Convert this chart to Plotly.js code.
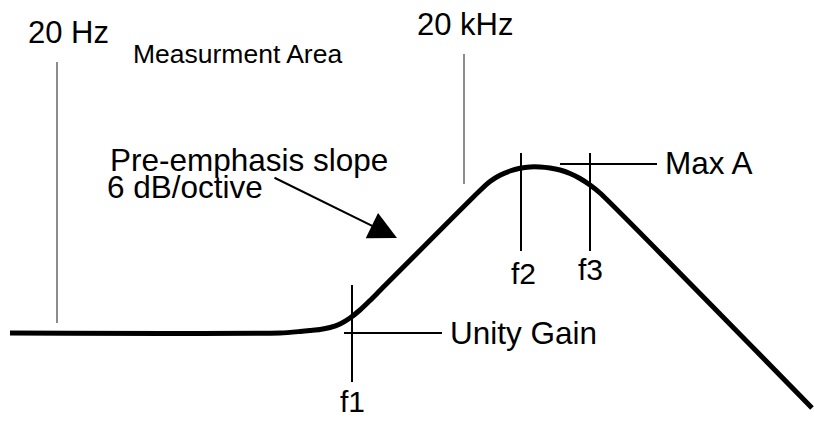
<!DOCTYPE html>
<html>
<head>
<meta charset="utf-8">
<script src="https://cdn.plot.ly/plotly-3.0.1.min.js"></script>
<style>
  body { margin: 0; background: #fff; }
  #graph { width: 814px; height: 426px; }
</style>
</head>
<body>
<div id="graph"></div>
<script>
// response curve (x = frequency position, y = level)
var curveX = [10, 280, 300, 310, 320, 330, 340, 350, 360, 370, 380, 480, 490, 500, 510, 520, 530, 540, 550, 560, 570, 580, 590, 600, 812];
var curveY = [93, 93, 94.5, 95.5, 96.5, 98.5, 102, 108, 116, 125.5, 135.5, 235.5, 244.5, 250.7, 255, 257.7, 259, 259, 258, 256, 252.5, 247.5, 241, 233, 18];

// measurement area limits (grey)
var bandX = [57, 464];
var bandTop = [364, 372];
var bandBottom = [103, 242];
var bandLabels = ['20 Hz', '20 kHz'];

// corner frequencies
var freqX = [352, 521, 590];
var freqTop = [141, 273, 273];
var freqBottom = [44, 175, 175];
var freqLabels = ['f1', 'f2', 'f3'];

// level markers
var levelY = [93, 262];
var levelFrom = [344, 560];
var levelTo = [442, 657];
var levelLabels = ['Unity Gain', 'Max A'];

var font = 'Liberation Sans, Arial, sans-serif';

var shapes = [];
bandX.forEach(function (x, i) {
  shapes.push({type: 'line', xref: 'x', yref: 'y', x0: x, x1: x, y0: bandBottom[i], y1: bandTop[i],
    line: {color: '#8c8c8c', width: 2}});
});
freqX.forEach(function (x, i) {
  shapes.push({type: 'line', xref: 'x', yref: 'y', x0: x, x1: x, y0: freqBottom[i], y1: freqTop[i],
    line: {color: '#000', width: 2}});
});
levelY.forEach(function (y, i) {
  shapes.push({type: 'line', xref: 'x', yref: 'y', x0: levelFrom[i], x1: levelTo[i], y0: y, y1: y,
    line: {color: '#000', width: 2}});
});

function label(text, x, y, size, anchor) {
  return {text: text, x: x, y: y, xref: 'x', yref: 'y', showarrow: false, borderpad: 0,
    xanchor: anchor || 'left', yanchor: 'middle', font: {family: font, size: size, color: '#000'}};
}

var annotations = [
  label(bandLabels[0], 27, 394, 31),
  label('Measurment Area', 132, 372, 26.5),
  label(bandLabels[1], 416, 402, 31),
  label('Pre-emphasis slope', 109, 266, 31.5),
  label('6 dB/octive', 106, 239, 31.5),
  label(levelLabels[0], 449, 93, 31.5),
  label(levelLabels[1], 664, 263, 31.5),
  label(freqLabels[0], freqX[0], 25, 30, 'center'),
  label(freqLabels[1], freqX[1] + 2, 153, 30, 'center'),
  label(freqLabels[2], freqX[2], 157, 30, 'center'),
  {x: 397, y: 188, ax: 273, ay: 249, xref: 'x', yref: 'y', axref: 'x', ayref: 'y',
   text: '', showarrow: true, arrowhead: 2, arrowsize: 2.8, arrowwidth: 2, arrowcolor: '#000'}
];

var data = [{
  x: curveX,
  y: curveY,
  type: 'scatter',
  mode: 'lines',
  line: {color: '#000', width: 5, shape: 'spline', smoothing: 0.6},
  hoverinfo: 'skip'
}];

var layout = {
  width: 814,
  height: 426,
  margin: {l: 0, r: 0, t: 0, b: 0},
  paper_bgcolor: '#fff',
  plot_bgcolor: '#fff',
  showlegend: false,
  xaxis: {range: [0, 814], visible: false, fixedrange: true},
  yaxis: {range: [0, 426], visible: false, fixedrange: true},
  shapes: shapes,
  annotations: annotations
};

Plotly.newPlot('graph', data, layout, {staticPlot: true});
</script>
</body>
</html>
